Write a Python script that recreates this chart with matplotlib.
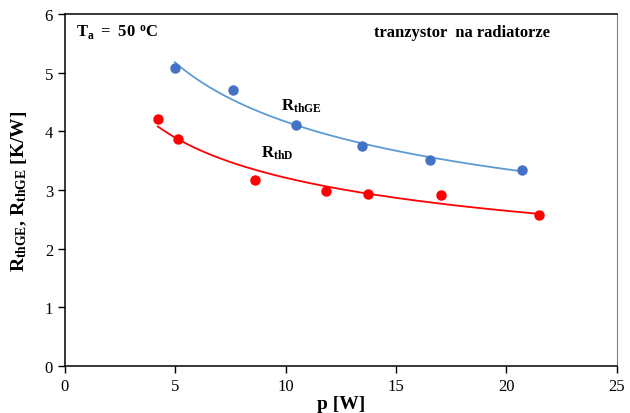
import numpy as np
import matplotlib.pyplot as plt

plt.rcParams['font.family'] = 'Liberation Serif'
plt.rcParams['mathtext.fontset'] = 'custom'
plt.rcParams['mathtext.rm'] = 'Liberation Serif:bold'
plt.rcParams['mathtext.it'] = 'Liberation Serif:bold'
plt.rcParams['mathtext.bf'] = 'Liberation Serif:bold'

# measured thermal resistances vs dissipated power
p_ge = [4.98, 7.61, 10.46, 13.48, 16.55, 20.70]
r_ge = [5.08, 4.70, 4.11, 3.75, 3.51, 3.35]
p_d = [4.21, 5.12, 8.59, 11.81, 13.71, 17.06, 21.48]
r_d = [4.21, 3.87, 3.18, 2.99, 2.94, 2.91, 2.58]


def power_trend(x, y):
    # Excel style power trendline y = a * x^b
    b, lna = np.polyfit(np.log(x), np.log(y), 1)
    xs = np.linspace(min(x), max(x), 200)
    return xs, np.exp(lna) * xs ** b


fig = plt.figure(figsize=(6.3, 4.14), dpi=100)
ax = fig.add_axes([0.103, 0.1135, 0.876, 0.850])

xs, ys = power_trend(p_ge, r_ge)
ax.plot(xs, ys, color='#5b9bd5', lw=1.3)
ax.plot(p_ge, r_ge, 'o', color='#4472c4', ms=6.5)

xs, ys = power_trend(p_d, r_d)
ax.plot(xs, ys, color='#ff0000', lw=1.3)
ax.plot(p_d, r_d, 'o', color='#ff0000', ms=6.5)

ax.set_xlim(0, 25)
ax.set_ylim(0, 6)
ax.set_xticks([0, 5, 10, 15, 20, 25])
ax.set_yticks([0, 1, 2, 3, 4, 5, 6])
ax.tick_params(labelsize=12, length=5, width=1, direction='out')
ax.spines['right'].set_color('#808080')
for s in ['left', 'bottom', 'top']:
    ax.spines[s].set_linewidth(1.1)

ax.set_xlabel('p [W]', fontsize=14, fontweight='bold', labelpad=1)
ax.set_ylabel(r'R$_{\mathrm{thGE}}$, R$_{\mathrm{thGE}}$ [K/W]', fontsize=14,
              fontweight='bold', labelpad=11)

ax.text(0.5, 5.7, r'$\mathrm{T_a\ =\ 50\ {}^{o}C}$', fontsize=12, va='center')
ax.text(14, 5.7, 'tranzystor  na radiatorze', fontsize=12,
        fontweight='bold', va='center')
ax.text(9.8, 4.45, r'R$_\mathrm{thGE}$', fontsize=12, fontweight='bold', va='center')
ax.text(8.9, 3.65, r'R$_\mathrm{thD}$', fontsize=12, fontweight='bold', va='center')

fig.savefig('out.png', dpi=100)
